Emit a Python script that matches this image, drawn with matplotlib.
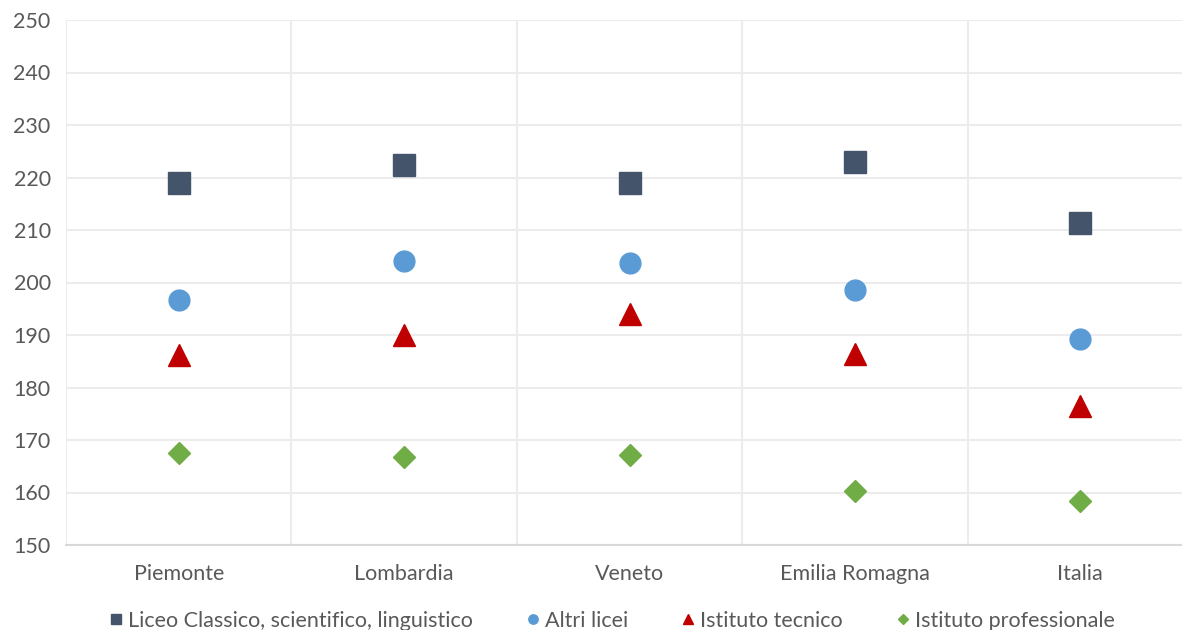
import matplotlib.pyplot as plt

plt.rcParams['font.family'] = ['Lato', 'DejaVu Sans']

regioni = ['Piemonte', 'Lombardia', 'Veneto', 'Emilia Romagna', 'Italia']
liceo_classico = [219.0, 222.4, 219.0, 223.0, 211.3]
altri_licei = [196.7, 204.1, 203.7, 198.6, 189.2]
istituto_tecnico = [186.2, 190.0, 194.0, 186.3, 176.5]
istituto_professionale = [167.5, 166.8, 167.1, 160.3, 158.4]

grigio = '#595959'

fig = plt.figure(figsize=(11.82, 6.3), dpi=100)
# the plot area runs a little past the right edge of the figure
ax = fig.add_axes([66/1182, 85/630, 1127/1182, 525/630])

x = range(len(regioni))
ax.plot(x, liceo_classico, 's', color='#44546a', ms=16.5, mec='#44546a',
        label='Liceo Classico, scientifico, linguistico', zorder=3)
ax.plot(x, altri_licei, 'o', color='#5b9bd5', ms=15, mec='#5b9bd5',
        label='Altri licei', zorder=3)
ax.plot(x, istituto_tecnico, '^', color='#c00000', ms=16.5, mec='#c00000',
        label='Istituto tecnico', zorder=3)
ax.plot(x, istituto_professionale, 'D', color='#70ad47', ms=11.5, mec='#70ad47',
        label='Istituto professionale', zorder=3)

ax.set_xlim(-0.5, len(regioni) - 0.5)
ax.set_ylim(150, 250)
ax.set_yticks(range(150, 251, 10))
ax.set_xticks(list(x))
ax.set_xticklabels(regioni)
ax.set_xticks([i + 0.5 for i in range(-1, len(regioni))], minor=True)

ax.grid(axis='y', color='#ececec', lw=1.5, zorder=0)
ax.grid(axis='x', which='minor', color='#ececec', lw=1.5, zorder=0)
ax.grid(axis='x', which='major', visible=False)

for side in ['top', 'right', 'left']:
    ax.spines[side].set_visible(False)
ax.spines['bottom'].set_color('#d9d9d9')
ax.spines['bottom'].set_linewidth(1.5)

ax.tick_params(axis='both', which='both', length=0, labelsize=15.5, labelcolor=grigio)
ax.tick_params(axis='x', pad=14)
ax.tick_params(axis='y', pad=11)

fig.legend(loc='center', bbox_to_anchor=(612/1182, 9/630), ncol=4,
           frameon=False, fontsize=15.5, labelcolor=grigio, markerscale=0.45,
           handletextpad=0.25, columnspacing=2.5, handlelength=0.6)

fig.savefig('out.png', dpi=100)
